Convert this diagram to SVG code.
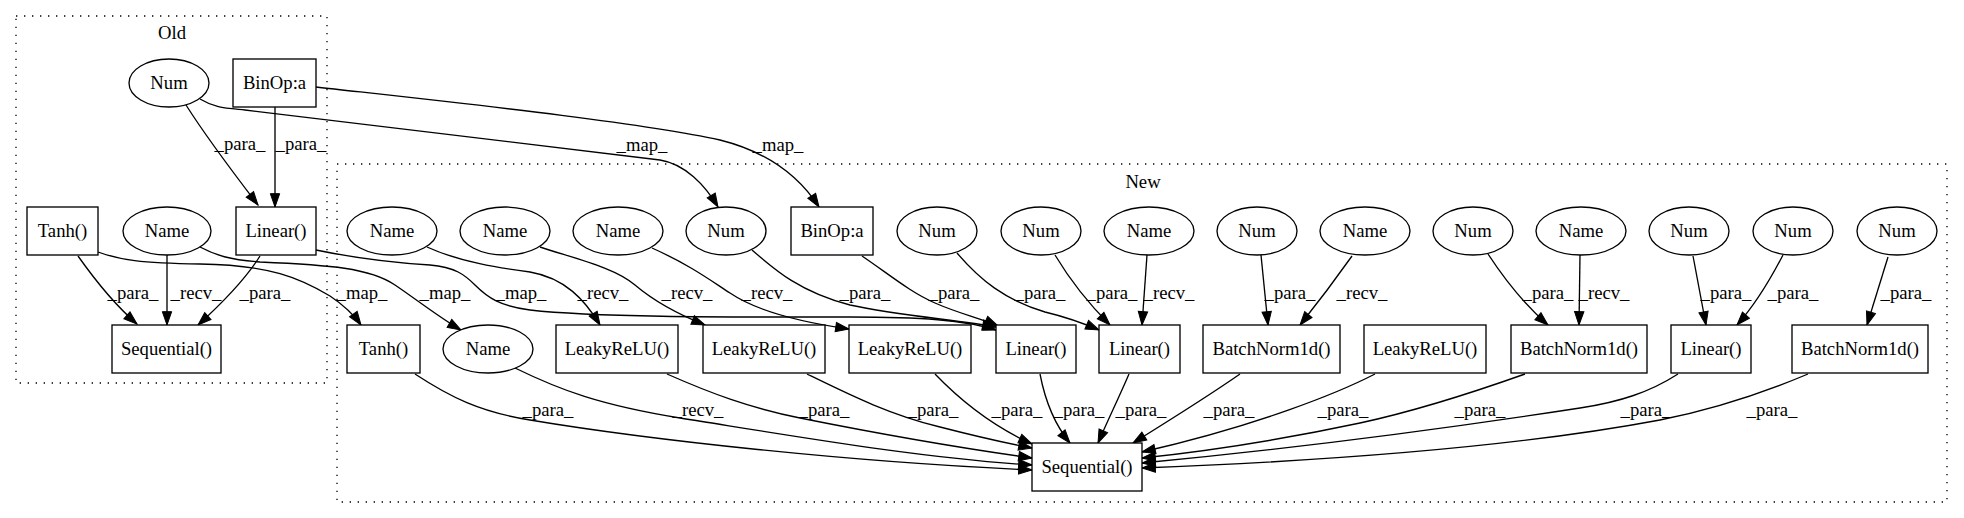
<svg xmlns="http://www.w3.org/2000/svg" width="1964" height="518" viewBox="0 0 1964 518">
<style>
text{font-family:"Liberation Serif","Times New Roman",serif;font-size:18.67px;fill:#000;text-anchor:middle}
.n{fill:#fff;stroke:#000;stroke-width:1.33}
.cl{fill:none;stroke:#000;stroke-width:1.33;stroke-dasharray:1.33,6.67}
.e{fill:none;stroke:#000;stroke-width:1.33;marker-end:url(#ah)}
</style>
<defs>
<marker id="ah" markerUnits="userSpaceOnUse" markerWidth="14" markerHeight="10" refX="13.33" refY="4.67" orient="auto" overflow="visible">
<path d="M0,0 L13.33,4.67 L0,9.33 z" fill="#000" stroke="#000" stroke-width="1"/>
</marker>
</defs>
<rect width="1964" height="518" fill="#fff"/>
<g id="cluster_old">
<rect class="cl" x="16" y="16" width="311" height="367"/>
<text x="172" y="39">Old</text>
</g>
<g id="cluster_new">
<rect class="cl" x="337" y="164" width="1610" height="338"/>
<text x="1143" y="188">New</text>
</g>
<g id="connectors">
<path class="e" d="M186,105 C205,135 235,175 258,205"/>
<text x="240" y="150">_para_</text>
<path class="e" d="M275,107 L275,207"/>
<text x="301" y="150">_para_</text>
<path class="e" d="M78,256 C95,280 115,305 137,324"/>
<text x="133" y="299">_para_</text>
<path class="e" d="M167,255 L167,325"/>
<text x="196" y="299">_recv_</text>
<path class="e" d="M260,256 C245,280 220,305 198,325"/>
<text x="265" y="299">_para_</text>
<path class="e" d="M200,99 C215,108 225,108 245,110 L660,160 C685,164 705,185 718,207"/>
<text x="642" y="151">_map_</text>
<path class="e" d="M316,87 C450,102 640,122 720,140 C760,150 795,170 819,207"/>
<text x="778" y="151">_map_</text>
<path class="e" d="M98,252 C120,260 140,263 200,264 C270,265 300,278 330,296 C345,306 354,315 361,325"/>
<text x="362" y="299">_map_</text>
<path class="e" d="M200,247 C215,255 230,260 260,262 C330,265 370,268 395,285 C420,302 440,318 461,330"/>
<text x="445" y="299">_map_</text>
<path class="e" d="M316,250 C345,256 380,262 430,265 C455,267 465,275 475,285 C488,298 500,306 530,310 C600,318 750,317 850,317 C920,317 965,320 996,330"/>
<text x="521" y="299">_map_</text>
<path class="e" d="M427,247 C460,262 500,268 530,272 C565,278 585,300 600,325"/>
<text x="603" y="299">_recv_</text>
<path class="e" d="M540,247 C580,260 615,268 635,285 C655,302 680,315 705,325"/>
<text x="687" y="299">_recv_</text>
<path class="e" d="M652,248 C690,265 710,280 730,293 C755,310 800,322 849,329"/>
<text x="767" y="299">_recv_</text>
<path class="e" d="M752,250 C775,270 800,292 850,305 C900,316 960,320 996,327"/>
<text x="865" y="299">_para_</text>
<path class="e" d="M862,256 C890,275 910,292 935,303 C960,314 980,318 998,326"/>
<text x="954" y="299">_para_</text>
<path class="e" d="M957,253 C980,280 1005,300 1045,312 C1070,318 1085,324 1099,330"/>
<text x="1040" y="299">_para_</text>
<path class="e" d="M1055,255 C1070,280 1090,305 1110,325"/>
<text x="1112" y="299">_para_</text>
<path class="e" d="M1147,255 L1142,325"/>
<text x="1169" y="299">_recv_</text>
<path class="e" d="M1261,255 L1268,325"/>
<text x="1290" y="299">_para_</text>
<path class="e" d="M1352,256 C1335,280 1320,300 1300,325"/>
<text x="1362" y="299">_recv_</text>
<path class="e" d="M1488,254 C1505,280 1525,305 1548,325"/>
<text x="1548" y="299">_para_</text>
<path class="e" d="M1580,255 L1579,325"/>
<text x="1604" y="299">_recv_</text>
<path class="e" d="M1693,256 L1706,325"/>
<text x="1726" y="299">_para_</text>
<path class="e" d="M1783,255 C1770,280 1755,305 1737,325"/>
<text x="1793" y="299">_para_</text>
<path class="e" d="M1888,257 L1867,325"/>
<text x="1906" y="299">_para_</text>
<path class="e" d="M415,374 C450,397 480,412 530,420 C650,440 850,462 1032,470"/>
<text x="548" y="416">_para_</text>
<path class="e" d="M515,368 C560,390 600,405 680,418 C800,437 920,458 1032,465"/>
<text x="698" y="416">_recv_</text>
<path class="e" d="M667,374 C710,393 750,408 800,418 C880,434 960,448 1032,458"/>
<text x="824" y="416">_para_</text>
<path class="e" d="M807,374 C850,395 890,415 940,427 C975,436 1000,442 1032,448"/>
<text x="933" y="416">_para_</text>
<path class="e" d="M935,374 C960,400 990,425 1032,444"/>
<text x="1017" y="416">_para_</text>
<path class="e" d="M1040,374 C1045,400 1055,425 1070,443"/>
<text x="1079" y="416">_para_</text>
<path class="e" d="M1129,374 C1120,395 1108,420 1098,443"/>
<text x="1141" y="416">_para_</text>
<path class="e" d="M1240,374 C1210,395 1170,420 1133,443"/>
<text x="1229" y="416">_para_</text>
<path class="e" d="M1375,374 C1340,392 1260,425 1142,452"/>
<text x="1343" y="416">_para_</text>
<path class="e" d="M1525,374 C1480,390 1420,410 1360,423 C1280,440 1200,452 1142,458"/>
<text x="1480" y="416">_para_</text>
<path class="e" d="M1678,374 C1650,392 1620,402 1580,408 C1450,428 1300,448 1142,463"/>
<text x="1646" y="416">_para_</text>
<path class="e" d="M1808,374 C1770,390 1720,408 1660,420 C1500,450 1300,462 1142,468"/>
<text x="1772" y="416">_para_</text>
</g>
<g id="old_num"><ellipse class="n" cx="169" cy="83" rx="40" ry="24"/><text x="169" y="89">Num</text></g>
<g id="old_binop"><rect class="n" x="233" y="59" width="83" height="48"/><text x="274.5" y="89">BinOp:a</text></g>
<g id="old_tanh"><rect class="n" x="27" y="207" width="71" height="48"/><text x="62.5" y="237">Tanh()</text></g>
<g id="old_name"><ellipse class="n" cx="167" cy="231" rx="44" ry="24"/><text x="167" y="237">Name</text></g>
<g id="old_linear"><rect class="n" x="236" y="207" width="80" height="48"/><text x="276" y="237">Linear()</text></g>
<g id="old_seq"><rect class="n" x="112" y="325" width="109" height="48"/><text x="166.5" y="355">Sequential()</text></g>
<g id="new_name1"><ellipse class="n" cx="392" cy="231" rx="45" ry="24"/><text x="392" y="237">Name</text></g>
<g id="new_name2"><ellipse class="n" cx="505" cy="231" rx="45" ry="24"/><text x="505" y="237">Name</text></g>
<g id="new_name3"><ellipse class="n" cx="618" cy="231" rx="45" ry="24"/><text x="618" y="237">Name</text></g>
<g id="new_num1"><ellipse class="n" cx="726" cy="231" rx="40" ry="24"/><text x="726" y="237">Num</text></g>
<g id="new_binop"><rect class="n" x="791" y="207" width="82" height="48"/><text x="832" y="237">BinOp:a</text></g>
<g id="new_num2"><ellipse class="n" cx="937" cy="231" rx="40" ry="24"/><text x="937" y="237">Num</text></g>
<g id="new_num3"><ellipse class="n" cx="1041" cy="231" rx="40" ry="24"/><text x="1041" y="237">Num</text></g>
<g id="new_name4"><ellipse class="n" cx="1149" cy="231" rx="45" ry="24"/><text x="1149" y="237">Name</text></g>
<g id="new_num4"><ellipse class="n" cx="1257" cy="231" rx="40" ry="24"/><text x="1257" y="237">Num</text></g>
<g id="new_name5"><ellipse class="n" cx="1365" cy="231" rx="45" ry="24"/><text x="1365" y="237">Name</text></g>
<g id="new_num5"><ellipse class="n" cx="1473" cy="231" rx="40" ry="24"/><text x="1473" y="237">Num</text></g>
<g id="new_name6"><ellipse class="n" cx="1581" cy="231" rx="45" ry="24"/><text x="1581" y="237">Name</text></g>
<g id="new_num6"><ellipse class="n" cx="1689" cy="231" rx="40" ry="24"/><text x="1689" y="237">Num</text></g>
<g id="new_num7"><ellipse class="n" cx="1793" cy="231" rx="40" ry="24"/><text x="1793" y="237">Num</text></g>
<g id="new_num8"><ellipse class="n" cx="1897" cy="231" rx="40" ry="24"/><text x="1897" y="237">Num</text></g>
<g id="new_tanh"><rect class="n" x="347" y="325" width="73" height="48"/><text x="383.5" y="355">Tanh()</text></g>
<g id="new_name7"><ellipse class="n" cx="488" cy="349" rx="45" ry="24"/><text x="488" y="355">Name</text></g>
<g id="new_leaky1"><rect class="n" x="556" y="325" width="122" height="48"/><text x="617" y="355">LeakyReLU()</text></g>
<g id="new_leaky2"><rect class="n" x="703" y="325" width="122" height="48"/><text x="764" y="355">LeakyReLU()</text></g>
<g id="new_leaky3"><rect class="n" x="849" y="325" width="122" height="48"/><text x="910" y="355">LeakyReLU()</text></g>
<g id="new_linear1"><rect class="n" x="996" y="325" width="80" height="48"/><text x="1036" y="355">Linear()</text></g>
<g id="new_linear2"><rect class="n" x="1099" y="325" width="81" height="48"/><text x="1139.5" y="355">Linear()</text></g>
<g id="new_bn1"><rect class="n" x="1203" y="325" width="137" height="48"/><text x="1271.5" y="355">BatchNorm1d()</text></g>
<g id="new_leaky4"><rect class="n" x="1364" y="325" width="122" height="48"/><text x="1425" y="355">LeakyReLU()</text></g>
<g id="new_bn2"><rect class="n" x="1511" y="325" width="136" height="48"/><text x="1579" y="355">BatchNorm1d()</text></g>
<g id="new_linear3"><rect class="n" x="1671" y="325" width="80" height="48"/><text x="1711" y="355">Linear()</text></g>
<g id="new_bn3"><rect class="n" x="1792" y="325" width="136" height="48"/><text x="1860" y="355">BatchNorm1d()</text></g>
<g id="new_seq"><rect class="n" x="1032" y="443" width="110" height="48"/><text x="1087" y="473">Sequential()</text></g>
</svg>
